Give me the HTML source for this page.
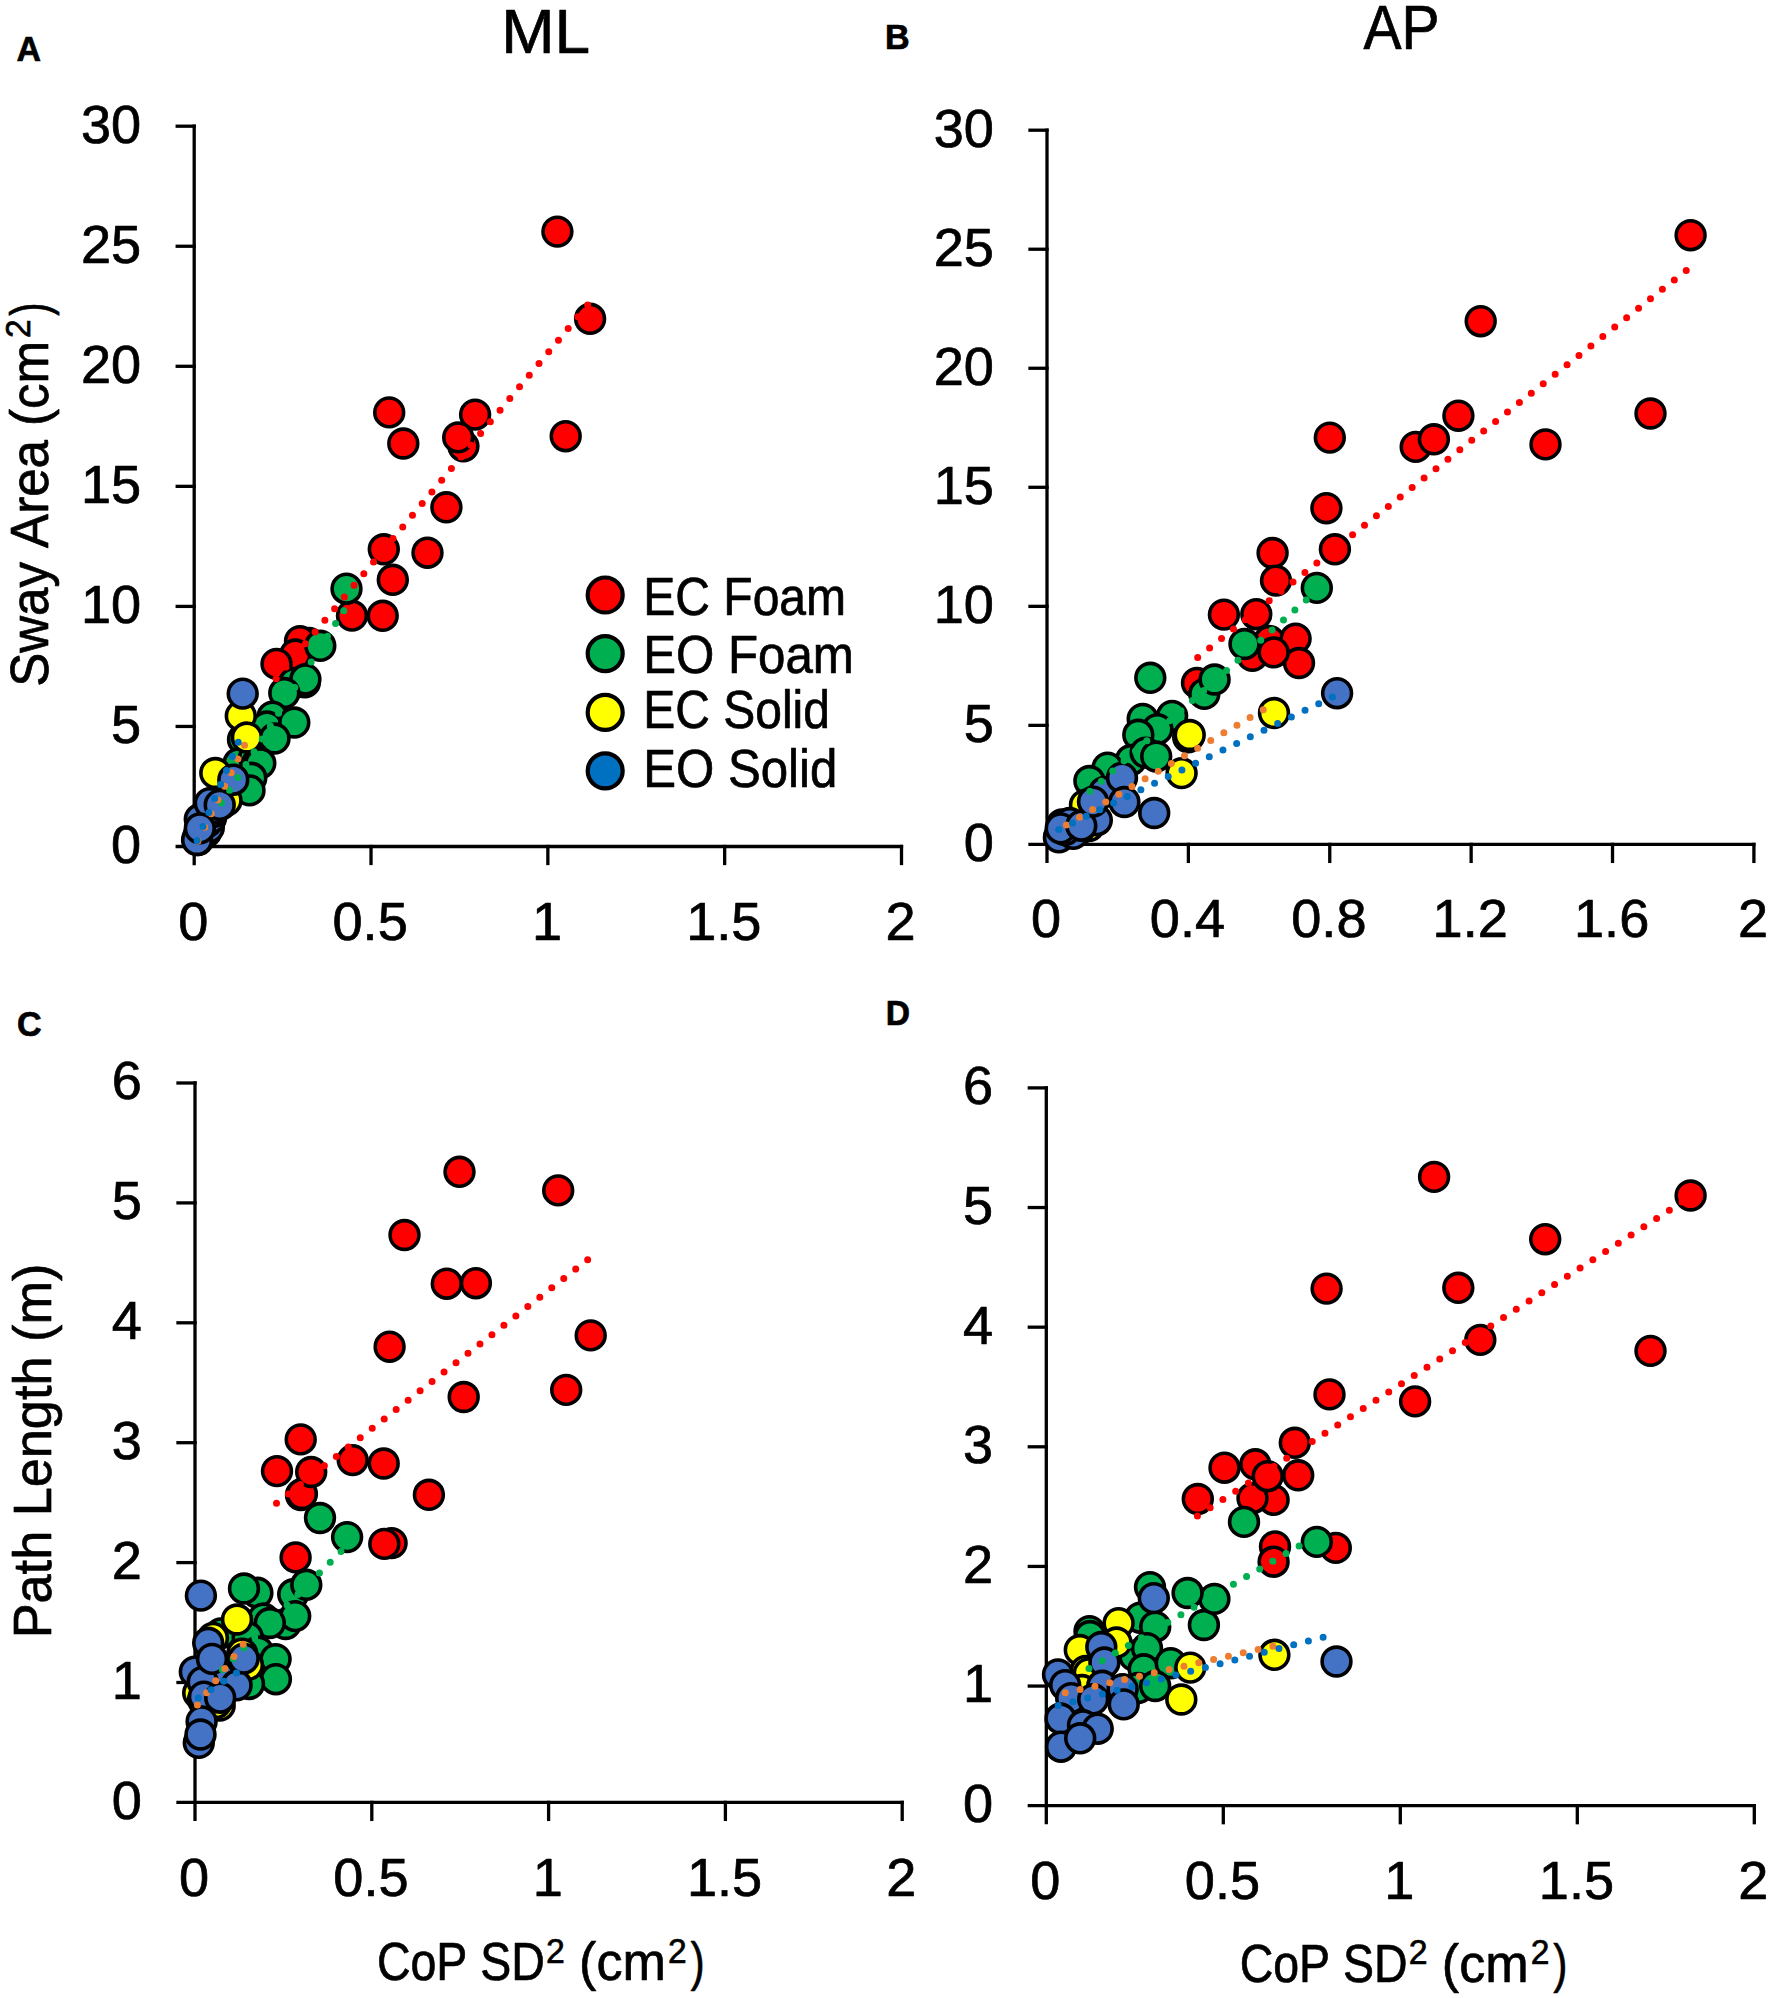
<!DOCTYPE html>
<html lang="en"><head><meta charset="utf-8"><title>Sway Area and Path Length vs CoP SD squared</title>
<style>
html,body{margin:0;padding:0;background:#fff}
body{width:1772px;height:1998px;overflow:hidden}
svg{display:block}
text{font-family:"Liberation Sans",Arial,Helvetica,sans-serif;fill:#000;font-kerning:none;stroke:#000;stroke-width:.7px;stroke-linejoin:round}
.ax line{stroke:#000;stroke-width:3.3;stroke-linecap:square}
.mk circle{stroke:#000;stroke-width:3.6}
.tr line{stroke-width:7.0;stroke-linecap:round;stroke-dasharray:0 15.2;fill:none}
</style></head><body>
<svg width="1772" height="1998" viewBox="0 0 1772 1998">
<rect width="1772" height="1998" fill="#fff"/>
<g id="panel-A">
<g class="ax"><line x1="194.2" y1="126.2" x2="194.2" y2="863.5"/><line x1="177.2" y1="846.5" x2="901.5" y2="846.5"/><line x1="371.02" y1="846.5" x2="371.02" y2="863.5"/><line x1="547.85" y1="846.5" x2="547.85" y2="863.5"/><line x1="724.67" y1="846.5" x2="724.67" y2="863.5"/><line x1="901.5" y1="846.5" x2="901.5" y2="863.5"/><line x1="177.2" y1="726.45" x2="194.2" y2="726.45"/><line x1="177.2" y1="606.4" x2="194.2" y2="606.4"/><line x1="177.2" y1="486.35" x2="194.2" y2="486.35"/><line x1="177.2" y1="366.3" x2="194.2" y2="366.3"/><line x1="177.2" y1="246.25" x2="194.2" y2="246.25"/><line x1="177.2" y1="126.2" x2="194.2" y2="126.2"/></g>
<g class="tk"><text transform="translate(193.3 940) scale(1.0100 1)" font-size="53.6" text-anchor="middle">0</text><text transform="translate(370.12 940) scale(1.0100 1)" font-size="53.6" text-anchor="middle">0.5</text><text transform="translate(546.95 940) scale(1.0100 1)" font-size="53.6" text-anchor="middle">1</text><text transform="translate(723.77 940) scale(1.0100 1)" font-size="53.6" text-anchor="middle">1.5</text><text transform="translate(900.6 940) scale(1.0100 1)" font-size="53.6" text-anchor="middle">2</text><text transform="translate(141.1 862.9) scale(1.0100 1)" font-size="53.6" text-anchor="end">0</text><text transform="translate(141.1 742.85) scale(1.0100 1)" font-size="53.6" text-anchor="end">5</text><text transform="translate(141.1 622.8) scale(1.0100 1)" font-size="53.6" text-anchor="end">10</text><text transform="translate(141.1 502.75) scale(1.0100 1)" font-size="53.6" text-anchor="end">15</text><text transform="translate(141.1 382.7) scale(1.0100 1)" font-size="53.6" text-anchor="end">20</text><text transform="translate(141.1 262.65) scale(1.0100 1)" font-size="53.6" text-anchor="end">25</text><text transform="translate(141.1 142.6) scale(1.0100 1)" font-size="53.6" text-anchor="end">30</text></g>
<g class="mk" fill="#FF0000"><circle cx="557.4" cy="231.6" r="14.4"/><circle cx="590.1" cy="318.8" r="14.4"/><circle cx="565.7" cy="436.2" r="14.4"/><circle cx="475.1" cy="414.6" r="14.4"/><circle cx="463.4" cy="446.3" r="14.4"/><circle cx="458.2" cy="437.4" r="14.4"/><circle cx="403.3" cy="443.5" r="14.4"/><circle cx="389.2" cy="412.4" r="14.4"/><circle cx="446.4" cy="507.3" r="14.4"/><circle cx="383.8" cy="549.3" r="14.4"/><circle cx="427.5" cy="552.7" r="14.4"/><circle cx="392.8" cy="579.8" r="14.4"/><circle cx="352" cy="615.6" r="14.4"/><circle cx="382.7" cy="615.8" r="14.4"/><circle cx="303" cy="644" r="14.4"/><circle cx="309" cy="643" r="14.4"/><circle cx="300" cy="641.2" r="14.4"/><circle cx="295.3" cy="654.5" r="14.4"/><circle cx="276.5" cy="663.9" r="14.4"/><circle cx="304.8" cy="682.4" r="14.4"/></g>
<g class="mk" fill="#00B050"><circle cx="346.5" cy="588.7" r="14.4"/><circle cx="320.3" cy="645.8" r="14.4"/><circle cx="294.2" cy="683" r="14.4"/><circle cx="305.4" cy="679.3" r="14.4"/><circle cx="284.3" cy="693" r="14.4"/><circle cx="272.5" cy="716.6" r="14.4"/><circle cx="266.9" cy="726.5" r="14.4"/><circle cx="294.3" cy="722.5" r="14.4"/><circle cx="243" cy="739.4" r="14.4"/><circle cx="274.5" cy="738.5" r="14.4"/><circle cx="238.6" cy="763.3" r="14.4"/><circle cx="254" cy="758" r="14.4"/><circle cx="257" cy="763.7" r="14.4"/><circle cx="260.3" cy="763.3" r="14.4"/><circle cx="251.3" cy="777.8" r="14.4"/><circle cx="249.5" cy="790.4" r="14.4"/><circle cx="221.5" cy="804" r="14.4"/></g>
<g class="mk" fill="#FFFF00"><circle cx="240.8" cy="715.9" r="14.4"/><circle cx="246.9" cy="737.5" r="14.4"/><circle cx="215.3" cy="773" r="14.4"/><circle cx="226.5" cy="800.5" r="14.4"/><circle cx="198" cy="840" r="14.4"/></g>
<g class="mk" fill="#4472C4"><circle cx="198.5" cy="836" r="14.4"/><circle cx="201.5" cy="833" r="14.4"/><circle cx="206.1" cy="832" r="14.4"/><circle cx="208.8" cy="827.5" r="14.4"/><circle cx="203" cy="824" r="14.4"/><circle cx="207" cy="822" r="14.4"/><circle cx="211" cy="818" r="14.4"/><circle cx="205" cy="815" r="14.4"/><circle cx="199.8" cy="819.3" r="14.4"/><circle cx="213" cy="812" r="14.4"/><circle cx="215" cy="808" r="14.4"/><circle cx="209.7" cy="803.1" r="14.4"/><circle cx="197.1" cy="840" r="14.4"/><circle cx="199.8" cy="828.4" r="14.4"/><circle cx="219.7" cy="804.9" r="14.4"/><circle cx="233.3" cy="779.7" r="14.4"/><circle cx="242.7" cy="693.6" r="14.4"/></g>
<g class="tr"><line x1="276.2" y1="678.7" x2="590.1" y2="302.2" stroke="#FF0000"/><line x1="221.5" y1="803.1" x2="346.5" y2="606.3" stroke="#00B050"/><line x1="198" y1="841" x2="246.9" y2="740.4" stroke="#ED7D31"/><line x1="197.1" y1="840.5" x2="242.7" y2="731.7" stroke="#0070C0"/></g>
</g>
<g id="panel-B">
<g class="ax"><line x1="1047" y1="130.2" x2="1047" y2="861.4"/><line x1="1030" y1="844.4" x2="1753.9" y2="844.4"/><line x1="1188.38" y1="844.4" x2="1188.38" y2="861.4"/><line x1="1329.76" y1="844.4" x2="1329.76" y2="861.4"/><line x1="1471.14" y1="844.4" x2="1471.14" y2="861.4"/><line x1="1612.52" y1="844.4" x2="1612.52" y2="861.4"/><line x1="1753.9" y1="844.4" x2="1753.9" y2="861.4"/><line x1="1030" y1="725.37" x2="1047" y2="725.37"/><line x1="1030" y1="606.33" x2="1047" y2="606.33"/><line x1="1030" y1="487.3" x2="1047" y2="487.3"/><line x1="1030" y1="368.27" x2="1047" y2="368.27"/><line x1="1030" y1="249.23" x2="1047" y2="249.23"/><line x1="1030" y1="130.2" x2="1047" y2="130.2"/></g>
<g class="tk"><text transform="translate(1046.1 936.5) scale(1.0100 1)" font-size="53.6" text-anchor="middle">0</text><text transform="translate(1187.48 936.5) scale(1.0100 1)" font-size="53.6" text-anchor="middle">0.4</text><text transform="translate(1328.86 936.5) scale(1.0100 1)" font-size="53.6" text-anchor="middle">0.8</text><text transform="translate(1470.24 936.5) scale(1.0100 1)" font-size="53.6" text-anchor="middle">1.2</text><text transform="translate(1611.62 936.5) scale(1.0100 1)" font-size="53.6" text-anchor="middle">1.6</text><text transform="translate(1753 936.5) scale(1.0100 1)" font-size="53.6" text-anchor="middle">2</text><text transform="translate(993.9 860.8) scale(1.0100 1)" font-size="53.6" text-anchor="end">0</text><text transform="translate(993.9 741.77) scale(1.0100 1)" font-size="53.6" text-anchor="end">5</text><text transform="translate(993.9 622.73) scale(1.0100 1)" font-size="53.6" text-anchor="end">10</text><text transform="translate(993.9 503.7) scale(1.0100 1)" font-size="53.6" text-anchor="end">15</text><text transform="translate(993.9 384.67) scale(1.0100 1)" font-size="53.6" text-anchor="end">20</text><text transform="translate(993.9 265.63) scale(1.0100 1)" font-size="53.6" text-anchor="end">25</text><text transform="translate(993.9 146.6) scale(1.0100 1)" font-size="53.6" text-anchor="end">30</text></g>
<g class="mk" fill="#FF0000"><circle cx="1690.6" cy="235.2" r="14.4"/><circle cx="1480.7" cy="321.2" r="14.4"/><circle cx="1650.5" cy="413.5" r="14.4"/><circle cx="1545.5" cy="444.4" r="14.4"/><circle cx="1458.4" cy="415.7" r="14.4"/><circle cx="1415.7" cy="446.9" r="14.4"/><circle cx="1433.9" cy="439.3" r="14.4"/><circle cx="1329.8" cy="437.6" r="14.4"/><circle cx="1326.4" cy="508.2" r="14.4"/><circle cx="1334.9" cy="549.3" r="14.4"/><circle cx="1272.6" cy="553" r="14.4"/><circle cx="1276" cy="580.6" r="14.4"/><circle cx="1223.9" cy="614.6" r="14.4"/><circle cx="1256.3" cy="614.2" r="14.4"/><circle cx="1252.4" cy="655.8" r="14.4"/><circle cx="1269.3" cy="640.9" r="14.4"/><circle cx="1295.6" cy="638.6" r="14.4"/><circle cx="1299" cy="663" r="14.4"/><circle cx="1273.6" cy="652.4" r="14.4"/><circle cx="1197" cy="682.9" r="14.4"/></g>
<g class="mk" fill="#00B050"><circle cx="1316.8" cy="587.9" r="14.4"/><circle cx="1244.5" cy="644" r="14.4"/><circle cx="1204.3" cy="693.9" r="14.4"/><circle cx="1214.6" cy="679.5" r="14.4"/><circle cx="1150.3" cy="677.8" r="14.4"/><circle cx="1172.1" cy="715.9" r="14.4"/><circle cx="1142.7" cy="718.9" r="14.4"/><circle cx="1157.4" cy="729.1" r="14.4"/><circle cx="1188.2" cy="737.2" r="14.4"/><circle cx="1138.3" cy="734.8" r="14.4"/><circle cx="1131" cy="760" r="14.4"/><circle cx="1145.6" cy="752.6" r="14.4"/><circle cx="1156.2" cy="756.5" r="14.4"/><circle cx="1107.6" cy="767.6" r="14.4"/><circle cx="1089.4" cy="781" r="14.4"/></g>
<g class="mk" fill="#FFFF00"><circle cx="1274" cy="713" r="14.4"/><circle cx="1189.7" cy="735" r="14.4"/><circle cx="1181.6" cy="773.1" r="14.4"/><circle cx="1085" cy="805" r="14.4"/><circle cx="1089" cy="826" r="14.4"/><circle cx="1079" cy="829.5" r="14.4"/><circle cx="1073" cy="829.5" r="14.4"/><circle cx="1066.4" cy="826" r="14.4"/></g>
<g class="mk" fill="#4472C4"><circle cx="1059.3" cy="836.5" r="14.4"/><circle cx="1058.9" cy="837.4" r="14.4"/><circle cx="1073.3" cy="833.8" r="14.4"/><circle cx="1065" cy="830" r="14.4"/><circle cx="1062" cy="824.5" r="14.4"/><circle cx="1069.7" cy="823" r="14.4"/><circle cx="1096.8" cy="820.2" r="14.4"/><circle cx="1060.7" cy="828.4" r="14.4"/><circle cx="1081.3" cy="825.7" r="14.4"/><circle cx="1104.3" cy="792" r="14.4"/><circle cx="1093" cy="801.6" r="14.4"/><circle cx="1122" cy="777.7" r="14.4"/><circle cx="1124.4" cy="802" r="14.4"/><circle cx="1154.2" cy="813" r="14.4"/><circle cx="1337.1" cy="693.2" r="14.4"/></g>
<g class="tr"><line x1="1197.7" y1="657.4" x2="1690.6" y2="267" stroke="#FF0000"/><line x1="1089.9" y1="791.2" x2="1316.8" y2="590.6" stroke="#00B050"/><line x1="1066.4" y1="824.9" x2="1274" y2="703.5" stroke="#ED7D31"/><line x1="1058.8" y1="829.6" x2="1337.1" y2="694.8" stroke="#0070C0"/></g>
</g>
<g id="panel-C">
<g class="ax"><line x1="195" y1="1083" x2="195" y2="1819.4"/><line x1="178" y1="1802.4" x2="902.2" y2="1802.4"/><line x1="371.8" y1="1802.4" x2="371.8" y2="1819.4"/><line x1="548.6" y1="1802.4" x2="548.6" y2="1819.4"/><line x1="725.4" y1="1802.4" x2="725.4" y2="1819.4"/><line x1="902.2" y1="1802.4" x2="902.2" y2="1819.4"/><line x1="178" y1="1682.5" x2="195" y2="1682.5"/><line x1="178" y1="1562.6" x2="195" y2="1562.6"/><line x1="178" y1="1442.7" x2="195" y2="1442.7"/><line x1="178" y1="1322.8" x2="195" y2="1322.8"/><line x1="178" y1="1202.9" x2="195" y2="1202.9"/><line x1="178" y1="1083" x2="195" y2="1083"/></g>
<g class="tk"><text transform="translate(194.1 1895.7) scale(1.0100 1)" font-size="53.6" text-anchor="middle">0</text><text transform="translate(370.9 1895.7) scale(1.0100 1)" font-size="53.6" text-anchor="middle">0.5</text><text transform="translate(547.7 1895.7) scale(1.0100 1)" font-size="53.6" text-anchor="middle">1</text><text transform="translate(724.5 1895.7) scale(1.0100 1)" font-size="53.6" text-anchor="middle">1.5</text><text transform="translate(901.3 1895.7) scale(1.0100 1)" font-size="53.6" text-anchor="middle">2</text><text transform="translate(141.9 1818.8) scale(1.0100 1)" font-size="53.6" text-anchor="end">0</text><text transform="translate(141.9 1698.9) scale(1.0100 1)" font-size="53.6" text-anchor="end">1</text><text transform="translate(141.9 1579) scale(1.0100 1)" font-size="53.6" text-anchor="end">2</text><text transform="translate(141.9 1459.1) scale(1.0100 1)" font-size="53.6" text-anchor="end">3</text><text transform="translate(141.9 1339.2) scale(1.0100 1)" font-size="53.6" text-anchor="end">4</text><text transform="translate(141.9 1219.3) scale(1.0100 1)" font-size="53.6" text-anchor="end">5</text><text transform="translate(141.9 1099.4) scale(1.0100 1)" font-size="53.6" text-anchor="end">6</text></g>
<g class="mk" fill="#FF0000"><circle cx="459.5" cy="1171.8" r="14.4"/><circle cx="558.2" cy="1190.4" r="14.4"/><circle cx="404.5" cy="1235" r="14.4"/><circle cx="446.8" cy="1283.7" r="14.4"/><circle cx="475.9" cy="1283.2" r="14.4"/><circle cx="590.7" cy="1335.4" r="14.4"/><circle cx="389.6" cy="1346.7" r="14.4"/><circle cx="463.7" cy="1397" r="14.4"/><circle cx="566.2" cy="1389.9" r="14.4"/><circle cx="300.7" cy="1439.4" r="14.4"/><circle cx="277" cy="1471.1" r="14.4"/><circle cx="301" cy="1495" r="14.4"/><circle cx="301.9" cy="1494" r="14.4"/><circle cx="311.2" cy="1472" r="14.4"/><circle cx="352.7" cy="1460.1" r="14.4"/><circle cx="383.7" cy="1463.5" r="14.4"/><circle cx="428.9" cy="1494.8" r="14.4"/><circle cx="391.6" cy="1543.1" r="14.4"/><circle cx="384.3" cy="1543.9" r="14.4"/><circle cx="295.6" cy="1557.4" r="14.4"/></g>
<g class="mk" fill="#00B050"><circle cx="320" cy="1518" r="14.4"/><circle cx="347.1" cy="1537.1" r="14.4"/><circle cx="293.2" cy="1594.3" r="14.4"/><circle cx="306.3" cy="1584.8" r="14.4"/><circle cx="285.6" cy="1624" r="14.4"/><circle cx="295.2" cy="1616.1" r="14.4"/><circle cx="257.4" cy="1592.8" r="14.4"/><circle cx="244" cy="1588.5" r="14.4"/><circle cx="263.4" cy="1618.5" r="14.4"/><circle cx="269.8" cy="1623" r="14.4"/><circle cx="220.8" cy="1633.4" r="14.4"/><circle cx="247.7" cy="1637" r="14.4"/><circle cx="258" cy="1651.5" r="14.4"/><circle cx="275.6" cy="1659.1" r="14.4"/><circle cx="275.9" cy="1679.2" r="14.4"/><circle cx="249" cy="1684" r="14.4"/></g>
<g class="mk" fill="#FFFF00"><circle cx="212.9" cy="1637.9" r="14.4"/><circle cx="237" cy="1619.5" r="14.4"/><circle cx="242.2" cy="1653.7" r="14.4"/><circle cx="247.9" cy="1665" r="14.4"/><circle cx="198.2" cy="1693" r="14.4"/><circle cx="219.7" cy="1705.6" r="14.4"/><circle cx="203" cy="1700" r="14.4"/><circle cx="216" cy="1703" r="14.4"/></g>
<g class="mk" fill="#4472C4"><circle cx="200.9" cy="1595.6" r="14.4"/><circle cx="208.2" cy="1642.8" r="14.4"/><circle cx="194.8" cy="1671.7" r="14.4"/><circle cx="219" cy="1676" r="14.4"/><circle cx="236.6" cy="1685.3" r="14.4"/><circle cx="202.7" cy="1681.9" r="14.4"/><circle cx="212" cy="1658.9" r="14.4"/><circle cx="243.7" cy="1658.6" r="14.4"/><circle cx="203.9" cy="1696.6" r="14.4"/><circle cx="220.2" cy="1697.7" r="14.4"/><circle cx="201.6" cy="1721.4" r="14.4"/><circle cx="198.8" cy="1742.8" r="14.4"/><circle cx="200.5" cy="1734.5" r="14.4"/></g>
<g class="tr"><line x1="276.5" y1="1503.3" x2="590.7" y2="1257.3" stroke="#FF0000"/><line x1="222.4" y1="1669.4" x2="347.1" y2="1545.5" stroke="#00B050"/><line x1="197.4" y1="1705" x2="247.9" y2="1638" stroke="#ED7D31"/><line x1="198.2" y1="1697.9" x2="243.7" y2="1668.4" stroke="#0070C0"/></g>
</g>
<g id="panel-D">
<g class="ax"><line x1="1046.3" y1="1087.9" x2="1046.3" y2="1822.7"/><line x1="1029.3" y1="1805.7" x2="1754.3" y2="1805.7"/><line x1="1223.3" y1="1805.7" x2="1223.3" y2="1822.7"/><line x1="1400.3" y1="1805.7" x2="1400.3" y2="1822.7"/><line x1="1577.3" y1="1805.7" x2="1577.3" y2="1822.7"/><line x1="1754.3" y1="1805.7" x2="1754.3" y2="1822.7"/><line x1="1029.3" y1="1686.07" x2="1046.3" y2="1686.07"/><line x1="1029.3" y1="1566.43" x2="1046.3" y2="1566.43"/><line x1="1029.3" y1="1446.8" x2="1046.3" y2="1446.8"/><line x1="1029.3" y1="1327.17" x2="1046.3" y2="1327.17"/><line x1="1029.3" y1="1207.53" x2="1046.3" y2="1207.53"/><line x1="1029.3" y1="1087.9" x2="1046.3" y2="1087.9"/></g>
<g class="tk"><text transform="translate(1045.4 1899) scale(1.0100 1)" font-size="53.6" text-anchor="middle">0</text><text transform="translate(1222.4 1899) scale(1.0100 1)" font-size="53.6" text-anchor="middle">0.5</text><text transform="translate(1399.4 1899) scale(1.0100 1)" font-size="53.6" text-anchor="middle">1</text><text transform="translate(1576.4 1899) scale(1.0100 1)" font-size="53.6" text-anchor="middle">1.5</text><text transform="translate(1753.4 1899) scale(1.0100 1)" font-size="53.6" text-anchor="middle">2</text><text transform="translate(993.2 1822.1) scale(1.0100 1)" font-size="53.6" text-anchor="end">0</text><text transform="translate(993.2 1702.47) scale(1.0100 1)" font-size="53.6" text-anchor="end">1</text><text transform="translate(993.2 1582.83) scale(1.0100 1)" font-size="53.6" text-anchor="end">2</text><text transform="translate(993.2 1463.2) scale(1.0100 1)" font-size="53.6" text-anchor="end">3</text><text transform="translate(993.2 1343.57) scale(1.0100 1)" font-size="53.6" text-anchor="end">4</text><text transform="translate(993.2 1223.93) scale(1.0100 1)" font-size="53.6" text-anchor="end">5</text><text transform="translate(993.2 1104.3) scale(1.0100 1)" font-size="53.6" text-anchor="end">6</text></g>
<g class="mk" fill="#FF0000"><circle cx="1690.6" cy="1195.5" r="14.4"/><circle cx="1545.2" cy="1239.2" r="14.4"/><circle cx="1458.3" cy="1287.8" r="14.4"/><circle cx="1480.3" cy="1339.9" r="14.4"/><circle cx="1650.5" cy="1350.9" r="14.4"/><circle cx="1434.1" cy="1176.9" r="14.4"/><circle cx="1326.6" cy="1288.6" r="14.4"/><circle cx="1329.5" cy="1394.4" r="14.4"/><circle cx="1415.1" cy="1401.4" r="14.4"/><circle cx="1294.8" cy="1442.8" r="14.4"/><circle cx="1224.5" cy="1467.7" r="14.4"/><circle cx="1255.3" cy="1464.3" r="14.4"/><circle cx="1298.2" cy="1475.3" r="14.4"/><circle cx="1197.8" cy="1499" r="14.4"/><circle cx="1273.6" cy="1499.9" r="14.4"/><circle cx="1252.5" cy="1498.2" r="14.4"/><circle cx="1267.7" cy="1476.2" r="14.4"/><circle cx="1275" cy="1546.4" r="14.4"/><circle cx="1273.6" cy="1561.7" r="14.4"/><circle cx="1335.8" cy="1547.9" r="14.4"/></g>
<g class="mk" fill="#00B050"><circle cx="1244" cy="1521.9" r="14.4"/><circle cx="1316.8" cy="1541.9" r="14.4"/><circle cx="1150" cy="1587.1" r="14.4"/><circle cx="1203.9" cy="1625" r="14.4"/><circle cx="1214.4" cy="1598.9" r="14.4"/><circle cx="1187.6" cy="1593" r="14.4"/><circle cx="1140.2" cy="1617.7" r="14.4"/><circle cx="1155.2" cy="1626.7" r="14.4"/><circle cx="1089.5" cy="1631.2" r="14.4"/><circle cx="1090" cy="1636" r="14.4"/><circle cx="1134.3" cy="1655.8" r="14.4"/><circle cx="1147" cy="1648.2" r="14.4"/><circle cx="1143.7" cy="1669.3" r="14.4"/><circle cx="1170.7" cy="1663.2" r="14.4"/><circle cx="1138" cy="1688" r="14.4"/><circle cx="1155.2" cy="1686" r="14.4"/></g>
<g class="mk" fill="#FFFF00"><circle cx="1118.6" cy="1623.2" r="14.4"/><circle cx="1079.8" cy="1650" r="14.4"/><circle cx="1116.5" cy="1642.5" r="14.4"/><circle cx="1085.7" cy="1670.9" r="14.4"/><circle cx="1088.7" cy="1673.4" r="14.4"/><circle cx="1190.3" cy="1667.6" r="14.4"/><circle cx="1274.4" cy="1654.8" r="14.4"/><circle cx="1181.3" cy="1699.5" r="14.4"/><circle cx="1082" cy="1690" r="14.4"/></g>
<g class="mk" fill="#4472C4"><circle cx="1153.8" cy="1598.1" r="14.4"/><circle cx="1101.3" cy="1647" r="14.4"/><circle cx="1104.4" cy="1662.5" r="14.4"/><circle cx="1058" cy="1674.4" r="14.4"/><circle cx="1065.2" cy="1685.1" r="14.4"/><circle cx="1102.2" cy="1685.8" r="14.4"/><circle cx="1122.6" cy="1689.2" r="14.4"/><circle cx="1071.2" cy="1698.2" r="14.4"/><circle cx="1093.2" cy="1699.3" r="14.4"/><circle cx="1123.7" cy="1704.4" r="14.4"/><circle cx="1060.5" cy="1718.5" r="14.4"/><circle cx="1083" cy="1725.3" r="14.4"/><circle cx="1097.7" cy="1728.7" r="14.4"/><circle cx="1061" cy="1746.7" r="14.4"/><circle cx="1080.2" cy="1738.3" r="14.4"/><circle cx="1336.5" cy="1661.5" r="14.4"/></g>
<g class="tr"><line x1="1197.4" y1="1516" x2="1690.6" y2="1196.4" stroke="#FF0000"/><line x1="1089" y1="1668.4" x2="1316.8" y2="1535.6" stroke="#00B050"/><line x1="1065.3" y1="1692.8" x2="1274.5" y2="1645.8" stroke="#ED7D31"/><line x1="1058.2" y1="1705.5" x2="1336.5" y2="1633.7" stroke="#0070C0"/></g>
</g>
<text transform="translate(16.55 60.5) scale(0.9879 1)" font-size="34.4" font-weight="bold">A</text>
<text transform="translate(885.12 48.5) scale(0.9915 1)" font-size="34.4" font-weight="bold">B</text>
<text transform="translate(16.9 1036.4) scale(0.9915 1)" font-size="34.4" font-weight="bold">C</text>
<text transform="translate(885.85 1024.9) scale(0.9764 1)" font-size="34.4" font-weight="bold">D</text>
<text transform="translate(501.25 53.2) scale(1.0167 1)" font-size="63">ML</text>
<text transform="translate(1363.39 48.8) scale(0.9058 1)" font-size="63">AP</text>
<g>
<text transform="translate(376.94 1980.2) scale(0.8676 1)" font-size="53.6">CoP SD</text>
<text transform="translate(546.1 1962.7) scale(0.9603 1)" font-size="35.2">2</text>
<text transform="translate(579.07 1980.2) scale(0.9728 1)" font-size="53.6">(cm</text>
<text transform="translate(668.01 1962.7) scale(0.9541 1)" font-size="35.2">2</text>
<text transform="translate(690.45 1980.2) scale(0.7951 1)" font-size="53.6">)</text>
</g>
<g>
<text transform="translate(1239.64 1981.8) scale(0.8676 1)" font-size="53.6">CoP SD</text>
<text transform="translate(1408.8 1964.3) scale(0.9603 1)" font-size="35.2">2</text>
<text transform="translate(1441.77 1981.8) scale(0.9728 1)" font-size="53.6">(cm</text>
<text transform="translate(1530.71 1964.3) scale(0.9541 1)" font-size="35.2">2</text>
<text transform="translate(1553.15 1981.8) scale(0.7951 1)" font-size="53.6">)</text>
</g>
<g>
<text transform="translate(48.4 684.5) rotate(-90) translate(-2.32 0) scale(0.9364 1)" font-size="54.5">Sway Area (cm</text>
<text transform="translate(30.3 336.3) rotate(-90) translate(-1.69 0) scale(0.9329 1)" font-size="36">2</text>
<text transform="translate(48.4 315.6) rotate(-90) translate(-0.23 0) scale(0.7336 1)" font-size="54.5">)</text>
</g>
<text transform="translate(51.2 1634) rotate(-90) translate(-4.29 0) scale(0.9589 1)" font-size="54.5">Path Length (m)</text>
<g id="legend">
<circle cx="605.2" cy="595" r="17.5" fill="#FF0000" stroke="#000" stroke-width="4.2"/>
<text transform="translate(643.26 614.7) scale(0.8964 1)" font-size="53.6">EC Foam</text>
<circle cx="605.2" cy="653.6" r="17.5" fill="#00B050" stroke="#000" stroke-width="4.2"/>
<text transform="translate(643.16 673) scale(0.9186 1)" font-size="53.6">EO Foam</text>
<circle cx="605.2" cy="712.4" r="17.5" fill="#FFFF00" stroke="#000" stroke-width="4.2"/>
<text transform="translate(643.26 728.3) scale(0.8954 1)" font-size="53.6">EC Solid</text>
<circle cx="605.2" cy="770.8" r="17.5" fill="#0070C0" stroke="#000" stroke-width="4.2"/>
<text transform="translate(643.16 787.2) scale(0.9182 1)" font-size="53.6">EO Solid</text>
</g>
</svg></body></html>
